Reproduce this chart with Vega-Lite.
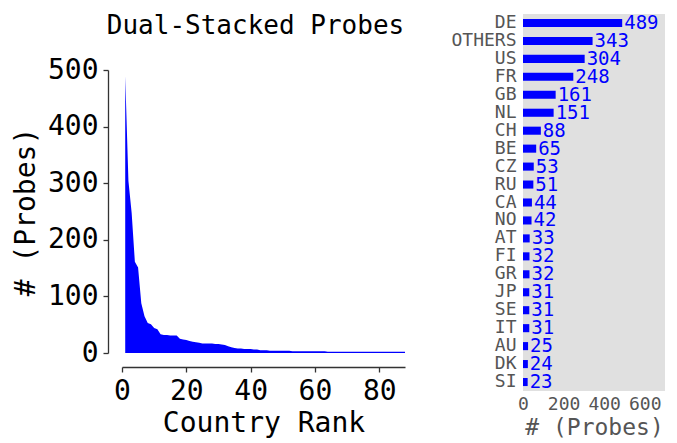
{
  "$schema": "https://vega.github.io/schema/vega-lite/v6.json",
  "background": "white",
  "padding": {"left": 12, "top": 13, "right": 5, "bottom": 0},
  "spacing": 45,
  "config": {
    "font": "DejaVu Sans Mono",
    "view": {"stroke": null},
    "axis": {"grid": false, "labelFlush": false, "labelOverlap": false, "titleFontWeight": "normal", "labelFont": "DejaVu Sans Mono", "titleFont": "DejaVu Sans Mono"}
  },
  "hconcat": [
    {
      "width": 283,
      "height": 339,
      "title": {"text": "Dual-Stacked Probes", "fontSize": 26, "fontWeight": "normal", "font": "DejaVu Sans Mono", "color": "black", "dx": -8, "offset": 0, "dy": 25},
      "data": {"values": [
        {"rank": 1, "probes": 489}, {"rank": 2, "probes": 304}, {"rank": 3, "probes": 248}, {"rank": 4, "probes": 161},
        {"rank": 5, "probes": 151}, {"rank": 6, "probes": 88}, {"rank": 7, "probes": 65}, {"rank": 8, "probes": 53},
        {"rank": 9, "probes": 51}, {"rank": 10, "probes": 44}, {"rank": 11, "probes": 42}, {"rank": 12, "probes": 33},
        {"rank": 13, "probes": 32}, {"rank": 14, "probes": 32}, {"rank": 15, "probes": 31}, {"rank": 16, "probes": 31},
        {"rank": 17, "probes": 31}, {"rank": 18, "probes": 25}, {"rank": 19, "probes": 24}, {"rank": 20, "probes": 23},
        {"rank": 21, "probes": 21}, {"rank": 22, "probes": 20}, {"rank": 23, "probes": 19}, {"rank": 24, "probes": 18},
        {"rank": 25, "probes": 17}, {"rank": 26, "probes": 17}, {"rank": 27, "probes": 17}, {"rank": 28, "probes": 17},
        {"rank": 29, "probes": 16}, {"rank": 30, "probes": 16}, {"rank": 31, "probes": 15}, {"rank": 32, "probes": 14},
        {"rank": 33, "probes": 12}, {"rank": 34, "probes": 10}, {"rank": 35, "probes": 9}, {"rank": 36, "probes": 8},
        {"rank": 37, "probes": 8}, {"rank": 38, "probes": 7}, {"rank": 39, "probes": 7}, {"rank": 40, "probes": 7},
        {"rank": 41, "probes": 6}, {"rank": 42, "probes": 6}, {"rank": 43, "probes": 5}, {"rank": 44, "probes": 5},
        {"rank": 45, "probes": 5}, {"rank": 46, "probes": 4}, {"rank": 47, "probes": 4}, {"rank": 48, "probes": 4},
        {"rank": 49, "probes": 4}, {"rank": 50, "probes": 4}, {"rank": 51, "probes": 4}, {"rank": 52, "probes": 4},
        {"rank": 53, "probes": 3}, {"rank": 54, "probes": 3}, {"rank": 55, "probes": 3}, {"rank": 56, "probes": 3},
        {"rank": 57, "probes": 3}, {"rank": 58, "probes": 3}, {"rank": 59, "probes": 3}, {"rank": 60, "probes": 3},
        {"rank": 61, "probes": 3}, {"rank": 62, "probes": 3}, {"rank": 63, "probes": 3}, {"rank": 64, "probes": 2},
        {"rank": 65, "probes": 2}, {"rank": 66, "probes": 2}, {"rank": 67, "probes": 2}, {"rank": 68, "probes": 2},
        {"rank": 69, "probes": 2}, {"rank": 70, "probes": 2}, {"rank": 71, "probes": 2}, {"rank": 72, "probes": 2},
        {"rank": 73, "probes": 2}, {"rank": 74, "probes": 2}, {"rank": 75, "probes": 2}, {"rank": 76, "probes": 2},
        {"rank": 77, "probes": 2}, {"rank": 78, "probes": 2}, {"rank": 79, "probes": 2}, {"rank": 80, "probes": 2},
        {"rank": 81, "probes": 2}, {"rank": 82, "probes": 2}, {"rank": 83, "probes": 2}, {"rank": 84, "probes": 2},
        {"rank": 85, "probes": 2}, {"rank": 86, "probes": 2}, {"rank": 87, "probes": 2}, {"rank": 88, "probes": 2}
      ]},
      "mark": {"type": "area", "color": "#0000ff", "interpolate": "linear"},
      "encoding": {
        "x": {"field": "rank", "type": "quantitative", "scale": {"domain": [0, 88], "nice": false},
          "axis": {"values": [0, 20, 40, 60, 80], "offset": 14, "title": "Country Rank", "titleFontSize": 28, "titleColor": "black", "titlePadding": 4,
            "labelFontSize": 28, "labelColor": "black", "labelPadding": 5, "tickSize": 5, "tickColor": "#333", "domainColor": "#333", "domainWidth": 1.3, "tickWidth": 1.3}},
        "y": {"field": "probes", "type": "quantitative", "scale": {"domain": [0, 500], "nice": false, "range": [339, 56]},
          "axis": {"values": [0, 100, 200, 300, 400, 500], "offset": 14, "title": "# (Probes)", "titleFontSize": 28, "titleColor": "black", "titlePadding": 7,
            "labelFontSize": 28, "labelColor": "black", "labelPadding": 5, "tickSize": 5, "tickColor": "#333", "domainColor": "#333", "domainWidth": 1.3, "tickWidth": 1.3}}
      }
    },
    {
      "width": 142,
      "height": 377,
      "view": {"fill": "#e0e0e0", "stroke": null},
      "data": {"values": [
        {"country": "DE", "n": 489}, {"country": "OTHERS", "n": 343}, {"country": "US", "n": 304}, {"country": "FR", "n": 248},
        {"country": "GB", "n": 161}, {"country": "NL", "n": 151}, {"country": "CH", "n": 88}, {"country": "BE", "n": 65},
        {"country": "CZ", "n": 53}, {"country": "RU", "n": 51}, {"country": "CA", "n": 44}, {"country": "NO", "n": 42},
        {"country": "AT", "n": 33}, {"country": "FI", "n": 32}, {"country": "GR", "n": 32}, {"country": "JP", "n": 31},
        {"country": "SE", "n": 31}, {"country": "IT", "n": 31}, {"country": "AU", "n": 25}, {"country": "DK", "n": 24},
        {"country": "SI", "n": 23}
      ]},
      "encoding": {
        "y": {"field": "country", "type": "nominal", "sort": null, "scale": {"paddingInner": 0.55, "paddingOuter": 0.275},
          "axis": {"title": null, "ticks": false, "domain": false, "labelFontSize": 18, "labelColor": "#555555", "labelPadding": 7}},
        "x": {"field": "n", "type": "quantitative", "scale": {"domain": [0, 700], "nice": false},
          "axis": {"values": [0, 200, 400, 600], "ticks": false, "domain": false, "title": "# (Probes)", "titleFontSize": 23, "titleColor": "#555555", "titlePadding": 3,
            "labelFontSize": 18, "labelColor": "#555555", "labelPadding": 4}}
      },
      "layer": [
        {"mark": {"type": "bar", "color": "#0000ff"}},
        {"mark": {"type": "text", "align": "left", "baseline": "middle", "dx": 2, "color": "#0000ff", "fontSize": 19}, "encoding": {"text": {"field": "n", "type": "quantitative"}}}
      ]
    }
  ]
}
